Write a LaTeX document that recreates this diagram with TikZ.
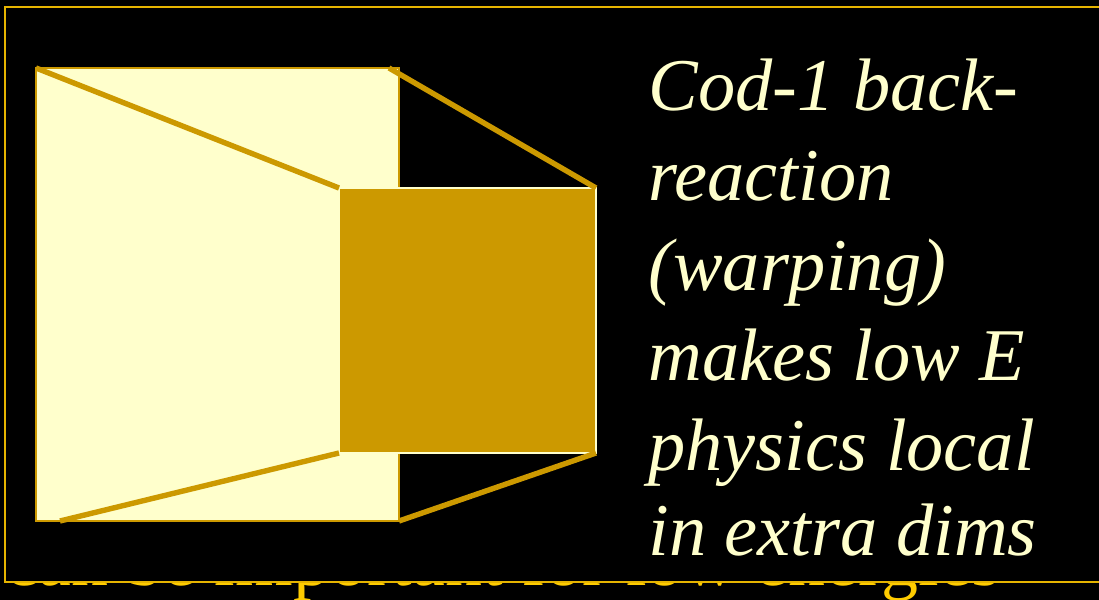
\documentclass[tikz,border=0pt]{standalone}
\usepackage{fontspec}
\setmainfont{Liberation Serif}
\definecolor{gold}{HTML}{CC9900}
\definecolor{brightgold}{HTML}{FFCC00}
\definecolor{edgegold}{HTML}{E6B400}
\definecolor{cream}{HTML}{FFFFCC}
\tikzset{
  thickline/.style={gold, line width=2.7pt, line cap=butt},
  caption/.style={anchor=base west, inner sep=0pt, text=cream, font=\fontsize{37.2}{44}\selectfont\itshape},
}
\begin{document}
\begin{tikzpicture}[x=0.5pt,y=-0.5pt]
\fill[black] (0,0) rectangle (1099,600);
\useasboundingbox (0,0) rectangle (1099,600);
% background slide text, mostly hidden behind the panel
\begin{scope}
\clip (0,583) rectangle (1099,600);
\node[anchor=base west, inner sep=0pt, text=brightgold, font=\fontsize{37}{44}\selectfont] (bgtext) at (5,585) {can be important for low energies};
\end{scope}
% black panel
\draw[edgegold, line width=1pt, fill=black] (5,7) rectangle (1110,582);
% coordinates
\coordinate (A) at (36,68);
\coordinate (B) at (399,521);
\coordinate (C) at (339,188);
\coordinate (D) at (596,453);
\coordinate (TR) at (389,68);
\coordinate (BL) at (60,521);
\coordinate (CR) at (596,188);
\coordinate (CL) at (339,453);
% light rectangle
\draw[gold, line width=0.8pt, fill=cream] (A) rectangle (B);
% dark square
\draw[cream, line width=0.8pt, fill=gold] (C) rectangle (D);
% perspective lines
\draw[thickline] (A) -- (C);
\draw[thickline] (TR) -- (CR);
\draw[thickline] (BL) -- (CL);
\draw[thickline] (B) -- (D);
% caption
\node[caption] (l1) at (648,110) {Cod-1 back-};
\node[caption] (l2) at (648,200) {reaction};
\node[caption] (l3) at (648,290) {(warping)};
\node[caption] (l4) at (648,380) {makes low E};
\node[caption] (l5) at (648,470) {physics local};
\node[caption] (l6) at (648,555) {in extra dims};
\end{tikzpicture}
\end{document}
